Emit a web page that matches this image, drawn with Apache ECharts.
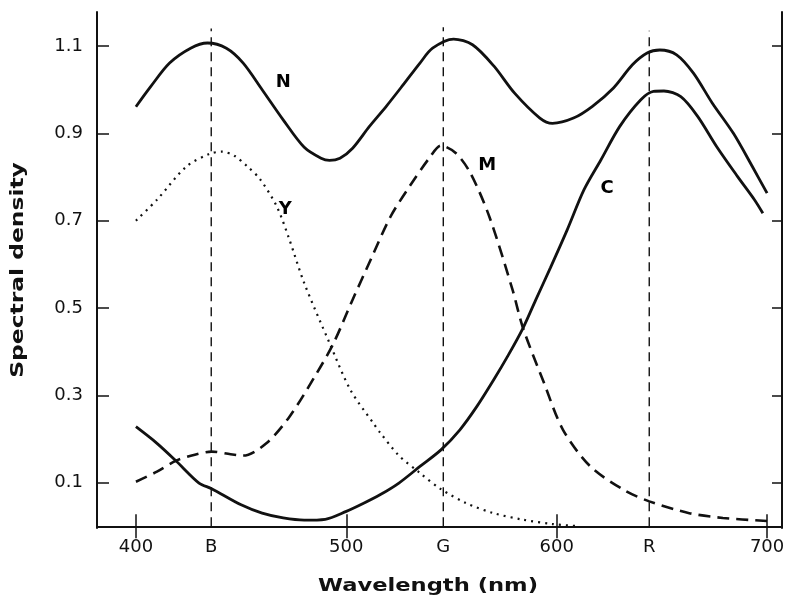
<!DOCTYPE html>
<html>
<head>
<meta charset="utf-8">
<script src="https://cdn.jsdelivr.net/npm/echarts@6/dist/echarts.min.js"></script>
<style>html,body{margin:0;padding:0;background:#fff}#c{width:788px;height:601px}</style>
</head>
<body>
<div id="c"></div>
<script>
// ---- data ----
var xTickValues = [400, 435.8, 500, 546.1, 600, 644, 700];
var xTickLabels = ['400', 'B', '500', 'G', '600', 'R', '700'];
var xMajorTicks = [400, 500, 600, 700];
var yTickValues = [0.1, 0.3, 0.5, 0.7, 0.9, 1.1];

var nWave = [400, 407, 416, 426, 434, 443, 451, 460, 470, 480, 488, 492, 497, 503, 511, 519, 527, 535, 541, 551, 560, 570, 580, 592, 598, 608, 617, 627, 636, 643, 649, 657, 665, 674, 684, 693, 700];
var nVal  = [0.961, 1.007, 1.061, 1.095, 1.107, 1.095, 1.061, 1.000, 0.931, 0.868, 0.843, 0.838, 0.843, 0.866, 0.916, 0.962, 1.011, 1.061, 1.095, 1.116, 1.103, 1.055, 0.992, 0.935, 0.923, 0.935, 0.962, 1.004, 1.057, 1.084, 1.091, 1.080, 1.038, 0.969, 0.900, 0.824, 0.763];

var cWave = [400, 410, 419, 430, 436, 450, 460, 470, 480, 490, 500, 508, 516, 525, 535, 545, 554, 562, 570, 577, 584, 590, 597, 605, 613, 621, 630, 640, 646, 651, 659, 667, 676, 686, 694, 698];
var cVal  = [0.228, 0.190, 0.150, 0.099, 0.086, 0.049, 0.030, 0.019, 0.014, 0.016, 0.034, 0.052, 0.072, 0.099, 0.137, 0.175, 0.221, 0.274, 0.335, 0.392, 0.454, 0.518, 0.592, 0.679, 0.771, 0.839, 0.916, 0.977, 0.996, 0.997, 0.984, 0.939, 0.870, 0.801, 0.748, 0.717];

var mWave = [400, 410, 419, 428, 436, 445, 451, 462, 473, 486, 494, 503, 512, 521, 530, 540, 545, 552, 559, 568, 579, 584, 594, 603, 616, 632, 644, 663, 679, 700];
var mVal  = [0.102, 0.125, 0.150, 0.164, 0.171, 0.165, 0.162, 0.190, 0.251, 0.351, 0.420, 0.519, 0.615, 0.709, 0.778, 0.847, 0.872, 0.855, 0.809, 0.709, 0.542, 0.454, 0.328, 0.221, 0.137, 0.083, 0.057, 0.030, 0.019, 0.012];

var yWave = [400, 410, 424, 435, 441, 447, 453, 459, 467, 473, 480, 492, 502, 513, 516, 525, 535, 545, 557, 570, 584, 598, 611];
var yVal  = [0.700, 0.748, 0.824, 0.853, 0.858, 0.848, 0.824, 0.795, 0.732, 0.656, 0.557, 0.420, 0.312, 0.235, 0.215, 0.162, 0.122, 0.085, 0.053, 0.030, 0.015, 0.005, 0.000];

var refNames = ['B', 'G', 'R'];
var refWave = [435.8, 546.1, 644];
var refTop = [1.14, 1.143, 1.135];

var curveNames = ['N', 'Y', 'M', 'C'];
var labelWave = [470, 471, 567, 624];
var labelVal  = [1.018, 0.725, 0.826, 0.775];

function pairs(xs, ys) { return xs.map(function (x, i) { return [x, ys[i]]; }); }

var ink = '#111';
var FONT = 'DejaVu Sans';

var series = [];
refWave.forEach(function (w, i) {
  series.push({
    name: 'ref-' + refNames[i], type: 'line', data: [[w, 0], [w, refTop[i]]],
    symbol: 'none', silent: true,
    lineStyle: { color: ink, width: 1.4, type: [9, 6] }
  });
});
function curve(name, xs, ys, style) {
  return { name: name, type: 'line', data: pairs(xs, ys), smooth: 0.3,
    symbol: 'none', lineStyle: style };
}
series.push(curve('N', nWave, nVal, { color: ink, width: 2.8 }));
series.push(curve('C', cWave, cVal, { color: ink, width: 2.8 }));
series.push(curve('M', mWave, mVal, { color: ink, width: 2.6, type: [12, 7] }));
series.push(curve('Y', yWave, yVal, { color: ink, width: 2.2, type: [2, 5] }));
series.push({
  name: 'labels', type: 'scatter', symbolSize: 0, silent: true,
  itemStyle: { opacity: 1 },
  data: curveNames.map(function (n, i) { return { name: n, value: [labelWave[i], labelVal[i]] }; }),
  label: { show: true, position: 'inside', formatter: '{b}', color: '#000', opacity: 1,
    fontFamily: FONT, fontWeight: 'bold', fontSize: 18 }
});

var chart = echarts.init(document.getElementById('c'), null, { renderer: 'canvas' });
chart.setOption({
  animation: false,
  backgroundColor: '#fff',
  grid: { left: 97, right: 6, top: 12, bottom: 73 },
  xAxis: [{
    type: 'value', min: 381.5, max: 707.1, position: 'bottom',
    axisLine: { lineStyle: { color: ink, width: 2 } },
    axisTick: { inside: true, length: 12, lineStyle: { color: ink, width: 1.5 }, customValues: xMajorTicks },
    axisLabel: { customValues: xTickValues, margin: 10, color: ink, fontFamily: FONT, fontSize: 18,
      formatter: function (v) { var i = xTickValues.indexOf(v); return i >= 0 ? xTickLabels[i] : ''; } },
    splitLine: { show: false }
  }, {
    type: 'value', min: 381.5, max: 707.1, position: 'top',
    axisLine: { lineStyle: { color: ink, width: 2 } },
    axisTick: { inside: true, length: 12, lineStyle: { color: ink, width: 1.5 }, customValues: xMajorTicks },
    axisLabel: { show: false }, splitLine: { show: false }
  }],
  yAxis: [{
    type: 'value', min: -0.004, max: 1.178, position: 'left',
    axisLine: { show: true, lineStyle: { color: ink, width: 2 } },
    axisTick: { show: true, inside: true, length: 12, lineStyle: { color: ink, width: 1.5 }, customValues: yTickValues },
    axisLabel: { customValues: yTickValues, margin: 14, color: ink, fontFamily: FONT, fontSize: 18,
      formatter: function (v) { return v.toFixed(1); } },
    splitLine: { show: false }
  }, {
    type: 'value', min: -0.004, max: 1.178, position: 'right',
    axisLine: { show: true, lineStyle: { color: ink, width: 2 } },
    axisTick: { show: true, inside: true, length: 10, lineStyle: { color: ink, width: 1.5 }, customValues: yTickValues },
    axisLabel: { show: false }, splitLine: { show: false }
  }],
  graphic: [{
    type: 'text', x: 18, y: 270, rotation: Math.PI / 2, scaleX: 1.3,
    style: { text: 'Spectral density', fill: ink, font: 'bold 18px "DejaVu Sans"', align: 'center', verticalAlign: 'middle' }
  }, {
    type: 'text', x: 428, y: 587, scaleX: 1.33,
    style: { text: 'Wavelength (nm)', fill: ink, font: 'bold 17px "DejaVu Sans"', align: 'center', verticalAlign: 'middle' }
  }],
  series: series
});
</script>
</body>
</html>
